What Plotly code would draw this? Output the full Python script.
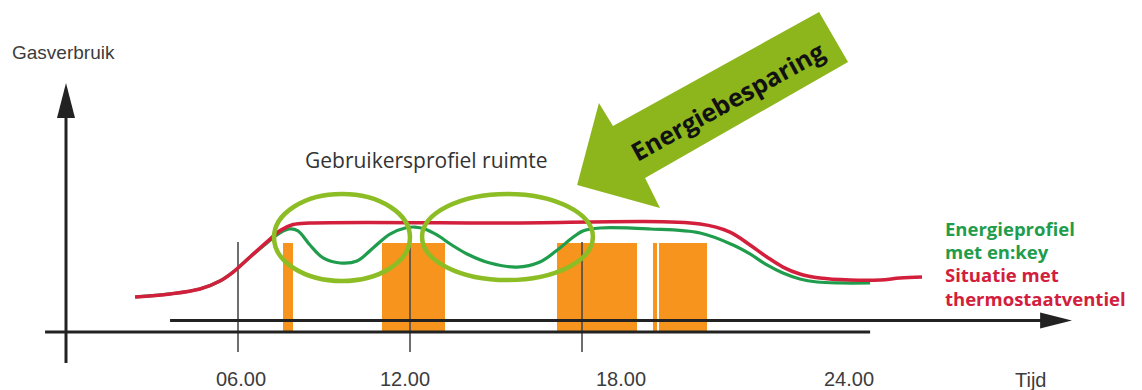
import plotly.graph_objects as go

# ---- data -------------------------------------------------------------
# time of day in hours, gas usage in relative units (100 = full heating)
red_t = [2.41, 3.63, 4.67, 5.37, 5.83, 6.42, 7.01, 7.47, 7.92, 8.51, 15.14,
         22.12, 23.16, 23.86, 24.45, 25.01, 25.60, 26.30, 27.35, 28.40, 29.09, 29.86]
red_v = [32.1, 34.9, 39.4, 46.8, 55.0, 68.8, 82.6, 93.0, 98.6, 100, 100,
         99.1, 91.7, 79.8, 68.8, 59.6, 53.2, 49.5, 47.7, 47.7, 49.5, 50.5]

green_t = [2.41, 3.63, 4.67, 5.37, 5.83, 6.42, 7.01, 7.47, 7.81, 8.09, 8.51, 8.97,
           9.56, 10.15, 10.71, 11.30, 11.83, 12.17, 12.52, 12.94, 13.46, 13.99,
           14.79, 15.73, 16.53, 17.23, 17.65, 18.03, 18.63, 20.37, 22.12, 23.27,
           23.86, 24.45, 25.01, 25.60, 26.20, 27.00, 28.05]
green_v = [32.1, 34.9, 39.4, 46.8, 55.0, 68.8, 81.7, 91.0, 94.5, 92.7, 79.8, 67.9,
           63.3, 65.1, 77.1, 89.9, 95.4, 96.3, 94.5, 89.0, 79.8, 71.6,
           63.3, 59.6, 64.2, 77.1, 86.2, 92.7, 95.4, 94.5, 90.8, 79.8,
           71.6, 61.5, 54.1, 48.6, 45.9, 45.0, 45.0]

# occupied periods of the room (start / end hour)
use_start = [7.58, 11.01, 17.14, 20.49, 20.70]
use_end = [7.91, 13.22, 19.91, 20.60, 22.35]
use_level = 82

hour_lines = [6, 12, 18]
tick_text = ["06.00", "12.00", "18.00", "24.00"]
tick_x = [6.1, 11.83, 19.36, 27.31]

# ---- styling ----------------------------------------------------------
RED = "#d2203c"
GREEN = "#1f9d4c"
LIME = "#8cbd24"
ARROW_GREEN = "#8db51c"
ORANGE = "#f7941d"
INK = "#222222"
TXT = "#3c3c3c"

W, H = 1142, 390
PX_PER_H = 28.667
PX_PER_U = 1.09
X_ORIGIN = 66
Y_ORIGIN = 332

x_range = [-X_ORIGIN / PX_PER_H, (W - X_ORIGIN) / PX_PER_H]
y_range = [(Y_ORIGIN - H) / PX_PER_U, Y_ORIGIN / PX_PER_U]

fig = go.Figure()

# occupancy blocks
fig.add_trace(go.Bar(
    x=[(s + e) / 2 for s, e in zip(use_start, use_end)],
    width=[e - s for s, e in zip(use_start, use_end)],
    y=[use_level] * len(use_start),
    base=0,
    marker=dict(color=ORANGE, line=dict(width=0)),
    hoverinfo="skip",
))

# hour marker lines
for h in hour_lines:
    fig.add_trace(go.Scatter(x=[h, h], y=[-18.35, 82.6], mode="lines",
                             line=dict(color="#4a4a4a", width=1.6), hoverinfo="skip"))

# baseline axis and time arrow shaft
fig.add_trace(go.Scatter(x=[-0.73, 28.05], y=[0, 0], mode="lines",
                         line=dict(color=INK, width=3), hoverinfo="skip"))
fig.add_trace(go.Scatter(x=[3.63, 34.2], y=[10.55, 10.55], mode="lines",
                         line=dict(color=INK, width=3), hoverinfo="skip"))
# vertical axis shaft
fig.add_trace(go.Scatter(x=[0, 0], y=[-28.4, 200], mode="lines",
                         line=dict(color=INK, width=3), hoverinfo="skip"))

# usage curves
fig.add_trace(go.Scatter(x=green_t, y=green_v, mode="lines",
                         line=dict(color=GREEN, width=3.2, shape="spline", smoothing=1.0),
                         hoverinfo="skip"))
fig.add_trace(go.Scatter(x=red_t, y=red_v, mode="lines",
                         line=dict(color=RED, width=3.6, shape="spline", smoothing=1.0),
                         hoverinfo="skip"))

shapes = []
# arrow heads of the axes
hw = 9 / PX_PER_H
shapes.append(dict(type="path", path=f"M {-hw},196.3 L 0,228.4 L {hw},196.3 Z",
                   fillcolor=INK, line=dict(width=0), layer="above"))
hh = 8 / PX_PER_U
shapes.append(dict(type="path", path=f"M 33.98,{10.55 + hh} L 35.09,10.55 L 33.98,{10.55 - hh} Z",
                   fillcolor=INK, line=dict(width=0), layer="above"))

# user profile ellipses
shapes.append(dict(type="circle", x0=7.256, x1=12.0, y0=46.8, y1=126.6,
                   line=dict(color=LIME, width=4.5), layer="above"))
shapes.append(dict(type="circle", x0=12.42, x1=18.38, y0=47.7, y1=126.6,
                   line=dict(color=LIME, width=4.5), layer="above"))

# savings arrow
arrow_pts = [(26.27, 293.6), (27.28, 247.7), (20.20, 141.3), (20.72, 113.8),
             (17.83, 134.9), (18.59, 210.1), (19.08, 189.0)]
path = "M " + " L ".join(f"{x},{y}" for x, y in arrow_pts) + " Z"
shapes.append(dict(type="path", path=path, fillcolor=ARROW_GREEN,
                   line=dict(width=0), layer="above"))

annotations = []
sans = "Liberation Sans, Arial, sans-serif"
human = "Open Sans, Noto Sans, sans-serif"

annotations.append(dict(x=-1.95, y=256, text="Gasverbruik", showarrow=False,
                        xanchor="left", yanchor="middle",
                        font=dict(family=sans, size=19, color=TXT)))
for t, xp in zip(tick_text, tick_x):
    annotations.append(dict(x=xp, y=-43.1, text=t, showarrow=False,
                            xanchor="center", yanchor="middle",
                            font=dict(family=sans, size=20, color=TXT)))
annotations.append(dict(x=33.63, y=-44, text="Tijd", showarrow=False,
                        xanchor="center", yanchor="middle",
                        font=dict(family=sans, size=20, color=TXT)))
annotations.append(dict(x=12.59, y=157.8, text="Gebruikersprofiel ruimte", showarrow=False,
                        xanchor="center", yanchor="middle",
                        font=dict(family=human, size=21, color="#333333")))
annotations.append(dict(x=23.06, y=212, text="<b>Energiebesparing</b>", showarrow=False,
                        textangle=-29, xanchor="center", yanchor="middle",
                        font=dict(family=human, size=25, color="#111111")))

legend_rows = [("Energieprofiel", GREEN, 95.4), ("met en:key", GREEN, 73.4),
               ("Situatie met", RED, 52.3), ("thermostaatventiel", RED, 30.3)]
for txt, col, yv in legend_rows:
    annotations.append(dict(x=30.59, y=yv, text=f"<b>{txt}</b>", showarrow=False,
                            xanchor="left", yanchor="middle",
                            font=dict(family=human, size=18.5, color=col)))

fig.update_layout(
    width=W, height=H,
    margin=dict(l=0, r=0, t=0, b=0),
    paper_bgcolor="white", plot_bgcolor="white",
    showlegend=False,
    xaxis=dict(range=x_range, visible=False, fixedrange=True),
    yaxis=dict(range=y_range, visible=False, fixedrange=True),
    shapes=shapes, annotations=annotations,
    bargap=0,
)

fig.write_html("out.html", config={"displayModeBar": False})
